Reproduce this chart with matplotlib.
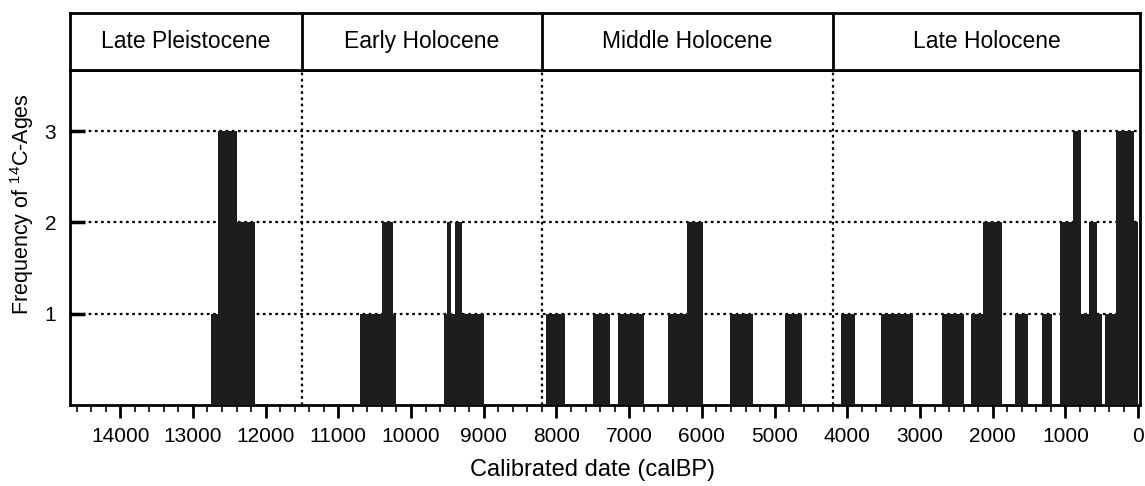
import matplotlib
matplotlib.use("Agg")
import matplotlib.pyplot as plt
from matplotlib.ticker import MultipleLocator, FixedLocator
import numpy as np

plt.rcParams['font.family'] = ['Liberation Sans', 'DejaVu Sans']
plt.rcParams['mathtext.fontset'] = 'custom'
plt.rcParams['mathtext.rm'] = 'Liberation Sans'

# Histogram bin edges (cal BP, young -> old) and counts between consecutive edges
bin_edges = [0, 60, 300, 450, 500, 570, 670, 790, 900, 1080, 1190, 1320, 1520,
             1700, 1870, 2140, 2300, 2400, 2700, 3090, 3540, 3890, 4090, 4620,
             4860, 5300, 5610, 5980, 6200, 6460, 6800, 7160, 7260, 7500, 7880,
             8150, 9000, 9300, 9400, 9450, 9500, 9550, 10200, 10250, 10400,
             10700, 12150, 12400, 12650, 12750]
counts = [2, 3, 1, 0, 1, 2, 1, 3, 2, 0, 1, 0, 1,
          0, 2, 1, 0, 1, 0, 1, 0, 1, 0, 1,
          0, 1, 0, 2, 1, 0, 1, 0, 1, 0, 1,
          0, 1, 2, 1, 2, 1, 0, 1, 2, 1,
          0, 2, 3, 1]

# Period boundaries and names
period_bounds = [14690, 11500, 8200, 4200, -25]
period_names = ["Late Pleistocene", "Early Holocene", "Middle Holocene", "Late Holocene"]

y_ticks = [1, 2, 3]
x_major = list(range(0, 14001, 1000))

W, H = 1145, 486
fig = plt.figure(figsize=(W / 100, H / 100), dpi=100)

L, R = 70 / W, 1140 / W
ax = fig.add_axes([L, 1 - 405 / H, R - L, (405 - 70) / H])
hax = fig.add_axes([L, 1 - 70 / H, R - L, (70 - 13) / H])

bar_color = '#1d1d1f'
ax.stairs(counts, bin_edges, fill=True, color=bar_color, linewidth=0, zorder=3)

ax.set_xlim(period_bounds[0], period_bounds[-1])
ax.set_ylim(0, 3.67)

dot = (0, (1.2, 1.6))
for yv in y_ticks:
    ax.axhline(yv, color='black', lw=1.6, ls=dot, zorder=2)
for xb in period_bounds[1:-1]:
    ax.axvline(xb, color='black', lw=1.6, ls=dot, zorder=2)

ax.xaxis.set_major_locator(FixedLocator(x_major))
ax.xaxis.set_minor_locator(MultipleLocator(200))
ax.set_xticklabels([str(v) for v in x_major])
ax.yaxis.set_major_locator(FixedLocator(y_ticks))
ax.set_yticklabels([str(v) for v in y_ticks])
ax.yaxis.set_minor_locator(FixedLocator([]))

ax.tick_params(axis='x', which='major', direction='out', length=9.5, width=2,
               labelsize=15, pad=6)
ax.tick_params(axis='x', which='minor', direction='out', length=5, width=1.2)
ax.tick_params(axis='y', which='major', direction='in', length=11, width=2.5,
               labelsize=15, pad=10)
for s in ax.spines.values():
    s.set_linewidth(2)

fig.text(592 / W, 1 - 470 / H, "Calibrated date (calBP)", ha='center', va='center',
         fontsize=17)
fig.text(22 / W, 1 - 204 / H, r"Frequency of $\mathregular{^{14}}$C-Ages",
         rotation=90, ha='center', va='center', fontsize=15.5)

# Header with period names
hax.set_xlim(period_bounds[0], period_bounds[-1])
hax.set_ylim(0, 1)
hax.set_xticks([])
hax.set_yticks([])
for s in hax.spines.values():
    s.set_linewidth(2)
for xb in period_bounds[1:-1]:
    hax.axvline(xb, color='black', lw=2)
for i, name in enumerate(period_names):
    xc = (period_bounds[i] + period_bounds[i + 1]) / 2
    hax.text(xc, 0.5, name, ha='center', va='center', fontsize=16.5)

fig.savefig("out.png", dpi=100)
